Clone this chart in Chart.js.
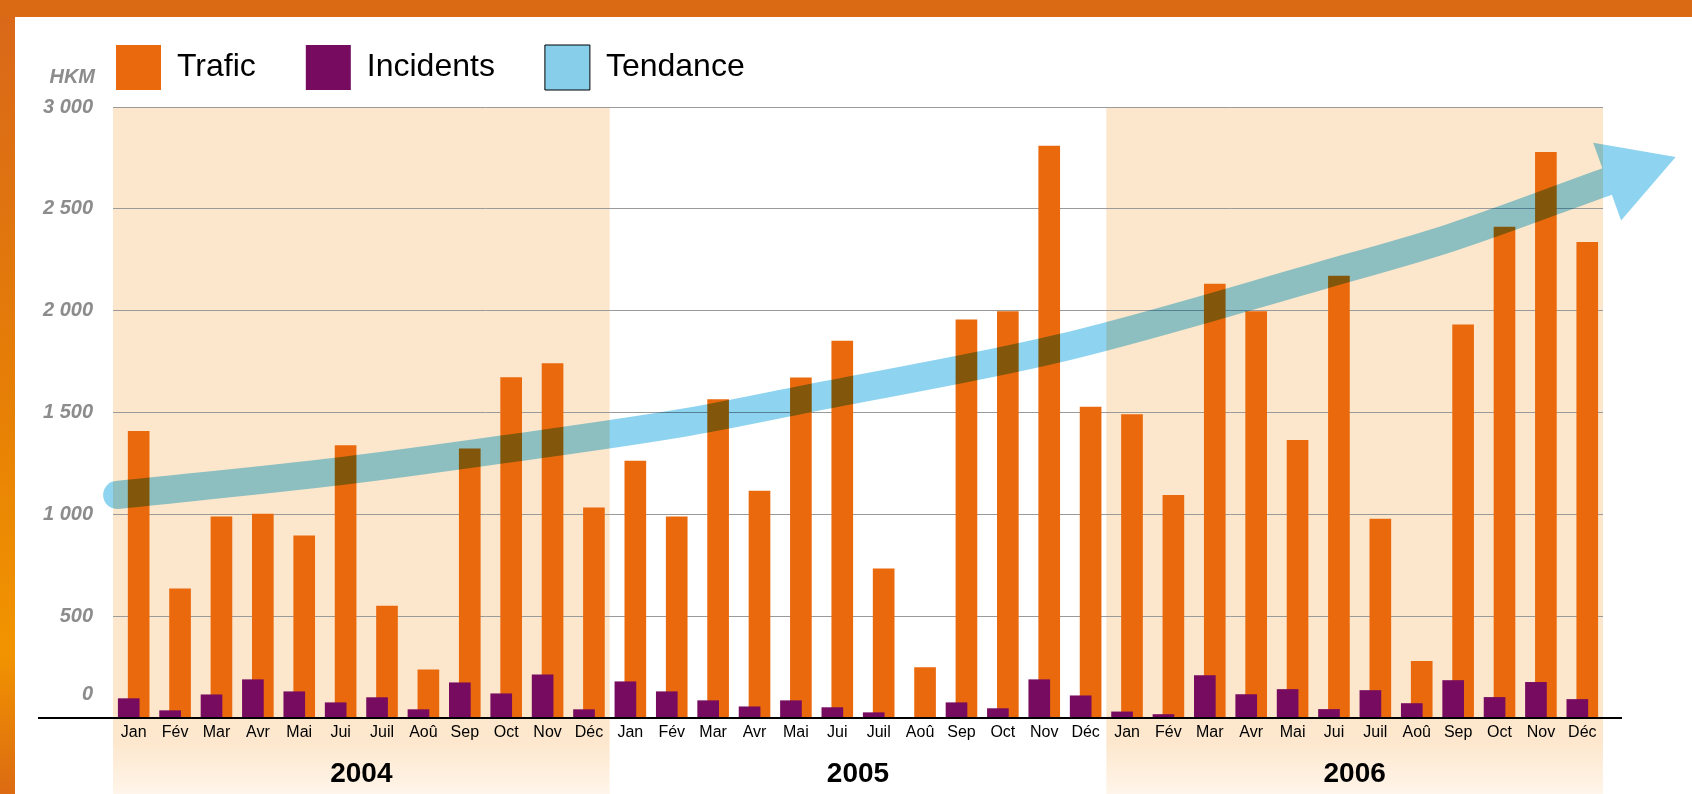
<!DOCTYPE html>
<html>
<head>
<meta charset="utf-8">
<script src="https://cdn.jsdelivr.net/npm/chart.js@4.4.1/dist/chart.umd.min.js"></script>
<style>
html,body{margin:0;padding:0;background:#fff;}
canvas{display:block;}
</style>
</head>
<body>
<canvas id="c" width="1692" height="794"></canvas>
<script>
// ---- data ----
const months = ['Jan','Fév','Mar','Avr','Mai','Jui','Juil','Aoû','Sep','Oct','Nov','Déc'];
const categories = [...months, ...months, ...months];
const years = ['2004','2005','2006'];
const trafic = [
  1407, 634, 988, 1001, 894, 1337, 550, 237, 1322, 1672, 1740, 1032,
  1262, 988, 1563, 1114, 1670, 1851, 733, 247, 1955, 1995, 2808, 1527,
  1490, 1093, 2130, 1995, 1363, 2170, 977, 278, 1930, 2410, 2778, 2336
];
const incidents = [
  95, 36, 114, 188, 129, 75, 100, 41, 173, 119, 212, 41,
  178, 129, 85, 55, 85, 51, 26, 0, 75, 46, 188, 109,
  30, 17, 208, 115, 140, 42, 135, 71, 184, 101, 175, 91
];
// trend (month index, value)
const trendMonth = [-0.4, 5, 9, 13.4, 16.3, 22.4, 28.7, 31.8, 35.6];
const trendValue = [1095, 1212, 1321, 1454, 1569, 1817, 2173, 2357, 2634];
const yMax = 3000, yStep = 500;
const unitLabel = 'HKM';

// ---- style ----
const FONT = "'Liberation Sans', Arial, sans-serif";
const ORANGE = '#EA690C', PURPLE = '#770B5F', BLUE = '#8ED3F0', BLUE_LEGEND = '#87CEEB';
const SHADE = '#FDE7CC';
const BAR_SHIFT = 0.12;          // horizontal offset of each bar from the month centre (in months)
const N = categories.length;

function fmt(v) {
  if (v === 0) return ['0', '', ''];
  if (v >= 1000) return Math.floor(v / 1000) + ' ' + String(v % 1000).padStart(3, '0');
  return String(v);
}

const decor = {
  id: 'decor',
  afterLayout(chart) {
    const lg = chart.legend;
    const shift = chart.chartArea.left - 47 - lg.left;
    lg.left += shift; lg.right += shift;
  },
  beforeDraw(chart) {
    const {ctx, width, height, chartArea, scales} = chart;
    ctx.save();
    ctx.fillStyle = '#fff';
    ctx.fillRect(0, 0, width, height);
    const x2 = scales.x2;
    const w = (x2.right - x2.left) / years.length;
    const top = chartArea.top, axisY = chartArea.bottom;
    const g = ctx.createLinearGradient(0, axisY, 0, height);
    g.addColorStop(0, SHADE);
    g.addColorStop(0.35, '#FDE8CF');
    g.addColorStop(1, '#FFF5EA');
    for (let i = 0; i < years.length; i += 2) {
      const l = x2.left + i * w;
      ctx.fillStyle = SHADE;
      ctx.fillRect(l, top, w, axisY - top);
      ctx.fillStyle = g;
      ctx.fillRect(l, axisY, w, height - axisY);
    }
    const lg = ctx.createLinearGradient(0, 0, 0, height);
    lg.addColorStop(0, '#D9671A');
    lg.addColorStop(0.5, '#E67F06');
    lg.addColorStop(0.82, '#F29400');
    lg.addColorStop(1, '#DC6B12');
    ctx.fillStyle = lg;
    ctx.fillRect(0, 0, 15, height);
    ctx.fillStyle = '#DB6A14';
    ctx.fillRect(0, 0, width, 17);
    ctx.restore();
  },
  beforeDatasetDraw(chart, args) {
    if (args.index === 2) {
      chart.ctx.save();
      chart.ctx.globalCompositeOperation = 'multiply';
    }
  },
  afterDatasetDraw(chart, args) {
    if (args.index !== 2) return;
    const ctx = chart.ctx;
    const pts = args.meta.data;
    const half = args.meta.dataset.options.borderWidth / 2;
    ctx.fillStyle = BLUE;
    const p0 = pts[0];
    let dx = (p0.cp2x ?? pts[1].x) - p0.x, dy = (p0.cp2y ?? pts[1].y) - p0.y;
    let a = Math.atan2(dy, dx);
    ctx.beginPath();
    ctx.moveTo(p0.x, p0.y);
    ctx.arc(p0.x, p0.y, half, a + Math.PI / 2, a + 3 * Math.PI / 2);
    ctx.closePath();
    ctx.fill();
    const pn = pts[pts.length - 1];
    dx = pn.x - (pn.cp1x ?? pts[pts.length - 2].x);
    dy = pn.y - (pn.cp1y ?? pts[pts.length - 2].y);
    const len = Math.hypot(dx, dy);
    const ux = dx / len, uy = dy / len, nx = -uy, ny = ux;
    const headLen = half * 5.2, headHalf = half * 2.95;
    ctx.beginPath();
    ctx.moveTo(pn.x + nx * headHalf, pn.y + ny * headHalf);
    ctx.lineTo(pn.x + ux * headLen, pn.y + uy * headLen);
    ctx.lineTo(pn.x - nx * headHalf, pn.y - ny * headHalf);
    ctx.closePath();
    ctx.fill();
    ctx.restore();
  },
  afterDatasetsDraw(chart) {
    const {ctx, chartArea} = chart;
    ctx.save();
    ctx.strokeStyle = '#000';
    ctx.lineWidth = 2;
    ctx.beginPath();
    ctx.moveTo(chartArea.left - 75, chartArea.bottom);
    ctx.lineTo(chartArea.right + 19, chartArea.bottom);
    ctx.stroke();
    ctx.fillStyle = '#8C8C8C';
    ctx.font = "italic bold 20px " + FONT;
    ctx.textAlign = 'right';
    ctx.textBaseline = 'alphabetic';
    ctx.fillText(unitLabel, chartArea.left - 18, chartArea.top - 24);
    ctx.restore();
  }
};

const legendStyle = [
  {fill: ORANGE, stroke: ORANGE, lw: 0},
  {fill: PURPLE, stroke: PURPLE, lw: 0},
  {fill: BLUE_LEGEND, stroke: '#000', lw: 1}
];

const hiddenLinear = (shift) => ({
  type: 'linear', display: false, offset: false,
  min: -0.5 + shift, max: N - 0.5 + shift
});

new Chart(document.getElementById('c'), {
  type: 'bar',
  data: {
    labels: categories,
    datasets: [
      {
        label: 'Trafic', data: trafic.map((v, i) => ({x: i, y: v})),
        backgroundColor: ORANGE, order: 2, grouped: false, barThickness: 21,
        xAxisID: 'xo', yAxisID: 'y'
      },
      {
        label: 'Incidents', data: incidents.map((v, i) => ({x: i, y: v})),
        backgroundColor: PURPLE, order: 1, grouped: false, barThickness: 21,
        xAxisID: 'xi', yAxisID: 'y'
      },
      {
        type: 'line', label: 'Tendance',
        data: trendMonth.map((m, i) => ({x: m, y: trendValue[i]})),
        xAxisID: 'xt', yAxisID: 'y', order: 0,
        borderColor: BLUE, borderWidth: 28, borderCapStyle: 'butt',
        cubicInterpolationMode: 'monotone', pointRadius: 0, fill: false, clip: false
      }
    ]
  },
  options: {
    responsive: false,
    devicePixelRatio: 1,
    animation: false,
    layout: {padding: {top: -5, left: 20, right: 89, bottom: 0}},
    plugins: {
      tooltip: {enabled: false},
      legend: {
        position: 'top',
        align: 'start',
        labels: {
          boxWidth: 45, boxHeight: 45, padding: 50, color: '#000',
          font: {family: FONT, size: 32},
          generateLabels: (chart) => chart.data.datasets.map((ds, i) => ({
            text: ds.label,
            fillStyle: legendStyle[i].fill,
            strokeStyle: legendStyle[i].stroke,
            lineWidth: legendStyle[i].lw,
            fontColor: '#000',
            hidden: false,
            datasetIndex: i
          }))
        }
      }
    },
    scales: {
      x: {
        type: 'category', position: 'bottom', offset: true, weight: 0,
        grid: {display: false, drawTicks: false}, border: {display: false},
        ticks: {color: '#000', font: {family: FONT, size: 16}, padding: 5, maxRotation: 0, autoSkip: false},
        afterFit: (s) => { s.height = 32; }
      },
      x2: {
        type: 'category', position: 'bottom', offset: true, weight: 1, labels: years,
        grid: {display: false, drawTicks: false}, border: {display: false},
        ticks: {color: '#000', font: {family: FONT, size: 28, weight: 'bold'}, padding: 7, maxRotation: 0},
        afterFit: (s) => { s.height = 44; }
      },
      xi: hiddenLinear(BAR_SHIFT),
      xo: hiddenLinear(-BAR_SHIFT),
      xt: {
        type: 'linear', position: 'top', min: -0.5, max: N - 0.5, offset: false,
        grid: {display: false, drawTicks: false}, border: {display: false},
        ticks: {display: false},
        afterFit: (s) => { s.height = 7; }
      },
      y: {
        min: 0, max: yMax,
        grid: {color: '#9A9A9A', lineWidth: 1, drawTicks: false},
        border: {display: false},
        ticks: {
          stepSize: yStep, padding: 20, color: '#8C8C8C',
          font: {family: FONT, size: 20, weight: 'bold', style: 'italic'},
          callback: (v) => fmt(v)
        },
        afterFit: (s) => { s.width = 93; }
      }
    }
  },
  plugins: [decor]
});
</script>
</body>
</html>
